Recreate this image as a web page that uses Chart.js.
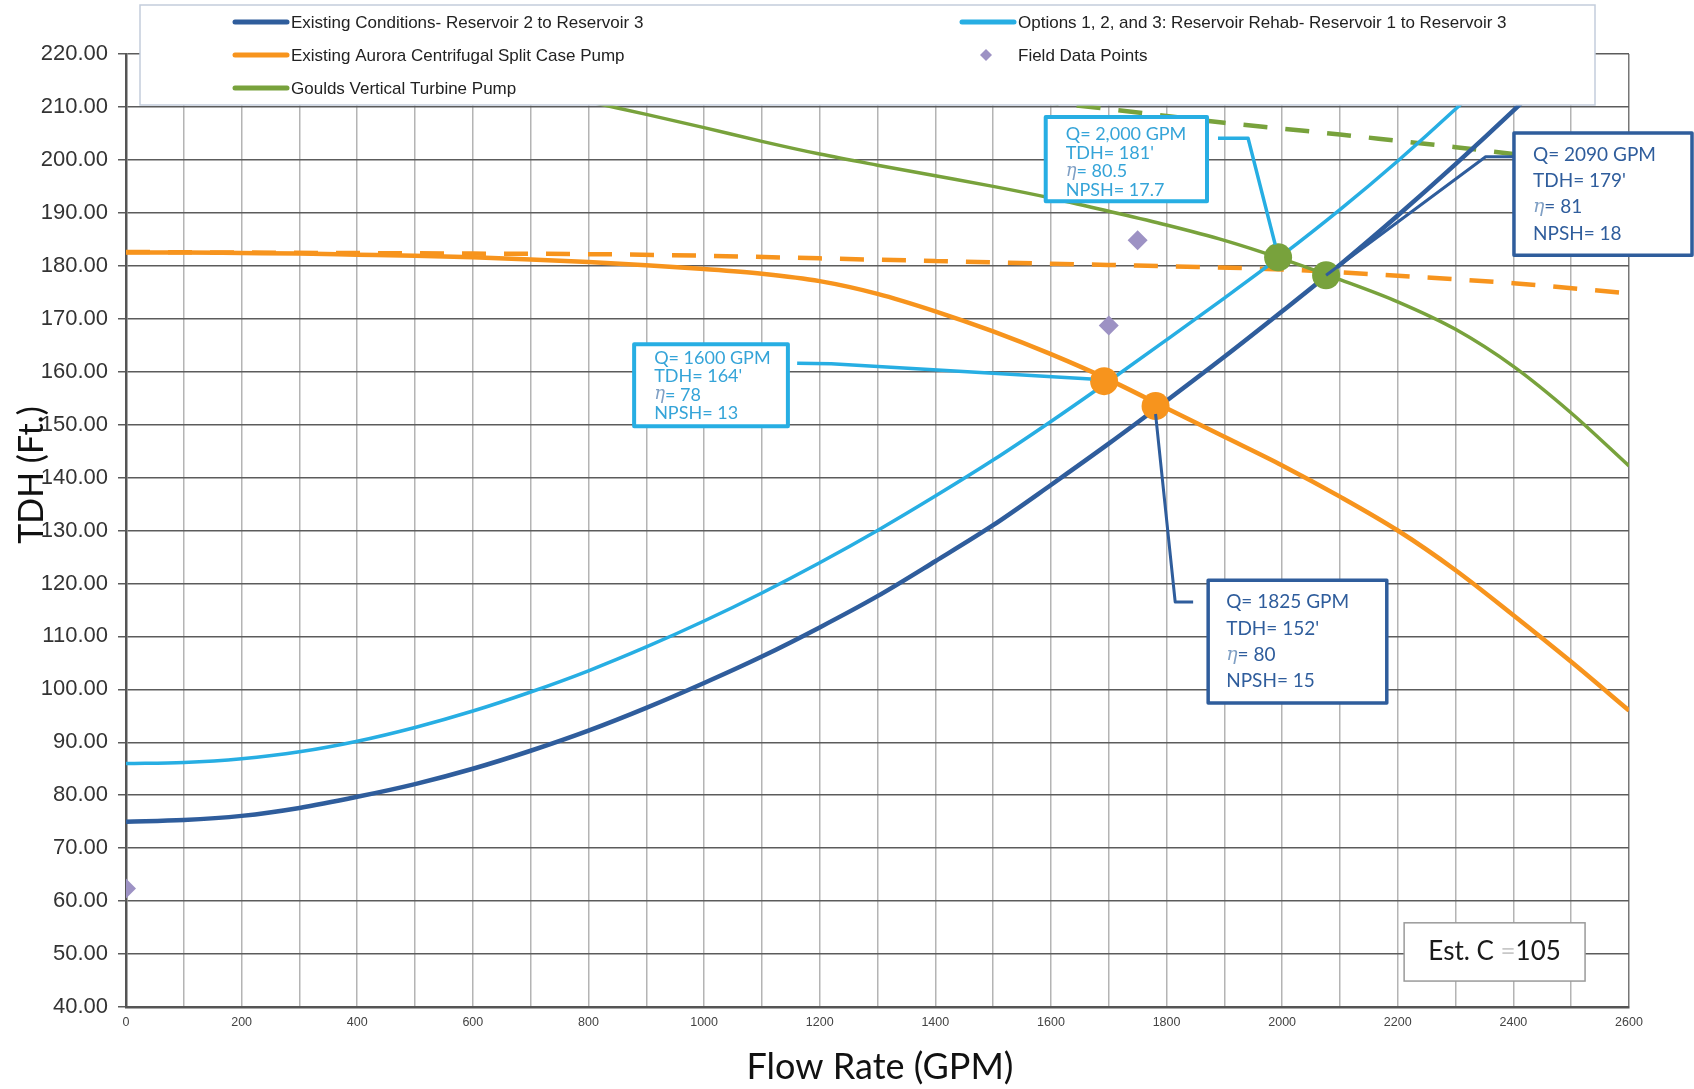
<!DOCTYPE html>
<html>
<head>
<meta charset="utf-8">
<title>TDH vs Flow Rate</title>
<script src="https://cdn.jsdelivr.net/npm/chart.js@4.4.1/dist/chart.umd.min.js"></script>
<style>
  html, body { margin: 0; padding: 0; background: #fff; }
  #wrap { width: 1694px; height: 1089px; position: relative; }
</style>
</head>
<body>
<div id="wrap"><canvas id="pumpChart"></canvas></div>
<script>
// system curves (flow in GPM, head in ft)
const flowExisting = [0,100,200,300,400,500,600,700,800,900,1000,1100,1200,1300,1400,1500,1600,1700,1800,1900,2000,2100,2200,2300,2400,2500];
const headExisting = [75.0,75.3,76.1,77.6,79.7,82.1,85.0,88.4,92.2,96.5,101.2,106.2,111.7,117.6,124.2,131.0,138.6,146.4,154.5,162.8,171.4,180.2,189.5,199.2,209.3,219.8];

const flowOptions = [0,100,200,300,400,500,600,700,800,900,1000,1100,1200,1300,1400,1500,1600,1700,1800,1900,2000,2100,2200,2300,2400];
const headOptions = [86.0,86.2,86.9,88.2,90.2,92.8,95.9,99.5,103.5,108.0,112.9,118.2,123.9,130.0,136.5,143.3,150.6,158.2,166.0,173.9,182.0,190.6,199.8,209.6,220.0];

// pump curves
const flowAurora = [0,100,200,300,400,500,600,700,800,900,1000,1100,1200,1300,1400,1500,1600,1700,1800,1900,2000,2100,2200,2300,2400,2500,2600];
const headAurora = [182.5,182.5,182.4,182.3,182.1,181.9,181.6,181.2,180.7,180.1,179.4,178.5,177.1,174.7,171.4,167.6,163.3,158.5,153.1,147.7,142.3,136.4,130.0,122.5,114.0,105.2,96.0];

const flowAuroraDash = [0,200,400,600,800,1000,1200,1400,1600,1800,2000,2200,2400,2600];
const headAuroraDash = [182.6,182.5,182.4,182.3,182.2,181.9,181.4,180.9,180.4,179.9,179.3,178.1,176.7,174.8];

const flowGoulds = [600,700,800,900,1000,1100,1200,1300,1400,1500,1600,1700,1800,1900,2000,2100,2200,2300,2400,2500,2600];
const headGoulds = [216.0,213.5,211.0,208.6,206.1,203.5,201.1,199.0,197.0,195.0,192.8,190.3,187.7,184.8,181.3,177.4,173.2,168.0,161.0,152.2,142.2];

const flowGouldsDash = [1500,1600,1700,1800,1900,2000,2100,2200,2300,2400];
const headGouldsDash = [212.0,210.8,209.6,208.3,207.0,205.9,204.8,203.6,202.4,201.1];

// operating points and field data
const opFlowGoulds = [1993, 2076];
const opHeadGoulds = [181.6, 178.2];
const opFlowAurora = [1692, 1781];
const opHeadAurora = [158.2, 153.5];
const fieldFlow = [0, 1700, 1750];
const fieldHead = [62.4, 168.7, 184.8];

// callout texts
const calloutText1 = ['Q= 2,000 GPM', "TDH= 181'", 'η= 80.5', 'NPSH= 17.7'];
const calloutText2 = ['Q= 2090 GPM', "TDH= 179'", 'η= 81', 'NPSH= 18'];
const calloutText3 = ['Q= 1600 GPM', "TDH= 164'", 'η= 78', 'NPSH= 13'];
const calloutText4 = ['Q= 1825 GPM', "TDH= 152'", 'η= 80', 'NPSH= 15'];

const darkBlue = '#2f5d9c';
const lightBlue = '#27aee3';
const orange = '#f7941d';
const green = '#78a23c';
const purple = '#9d92c4';

function pts(xs, ys) {
  return xs.map((v, i) => ({ x: v, y: ys[i] }));
}

function curve(label, xs, ys, color, width, order, dash) {
  return {
    label: label,
    data: pts(xs, ys),
    showLine: true,
    borderColor: color,
    backgroundColor: color,
    borderWidth: width,
    borderDash: dash || [],
    borderCapStyle: 'butt',
    pointRadius: 0,
    cubicInterpolationMode: 'monotone',
    fill: false,
    order: order
  };
}

// box layouts, given in chart units so they follow the scales
const callouts = [
  { lines: calloutText1, color: lightBlue, text: '#35a4d8', box: [1591, 208.1, 1870, 192.2], border: 4,
    leader: [[1889, 204.1], [1941, 204.1], [1988, 184.0]], leaderWidth: 3.5, size: 18, dx: 20, dy: 17, step: 18.7 },
  { lines: calloutText2, color: darkBlue, text: darkBlue, box: [2401, 205.1, 2709, 182.0], border: 3.5,
    leader: [[2400, 200.6], [2352, 200.6], [2076, 178.2]], leaderWidth: 3, size: 19, dx: 19, dy: 22, step: 26.2 },
  { lines: calloutText3, color: lightBlue, text: '#35a4d8', box: [879, 165.2, 1145, 149.7], border: 4,
    leader: [[1161, 161.6], [1220, 161.5], [1669, 158.6]], leaderWidth: 3.5, size: 18, dx: 20, dy: 14, step: 18.3 },
  { lines: calloutText4, color: darkBlue, text: darkBlue, box: [1872, 120.6, 2181, 97.4], border: 3.5,
    leader: [[1781, 152.0], [1815, 116.5], [1846, 116.5]], leaderWidth: 3, size: 19, dx: 18, dy: 22, step: 26.3 }
];
const estBox = [2211, 55.9, 2524, 44.9];

function drawCallout(ctx, xs, ys, c) {
  const l = xs.getPixelForValue(c.box[0]), t = ys.getPixelForValue(c.box[1]);
  const r = xs.getPixelForValue(c.box[2]), b = ys.getPixelForValue(c.box[3]);
  ctx.save();
  ctx.strokeStyle = c.color;
  ctx.lineWidth = c.leaderWidth;
  ctx.lineJoin = 'round';
  ctx.beginPath();
  c.leader.forEach((p, i) => {
    const px = xs.getPixelForValue(p[0]), py = ys.getPixelForValue(p[1]);
    if (i) ctx.lineTo(px, py); else ctx.moveTo(px, py);
  });
  ctx.stroke();
  ctx.fillStyle = '#fff';
  ctx.fillRect(l, t, r - l, b - t);
  ctx.lineWidth = c.border;
  ctx.strokeRect(l, t, r - l, b - t);
  ctx.textBaseline = 'middle';
  ctx.textAlign = 'left';
  c.lines.forEach((line, i) => {
    const ty = t + c.dy + i * c.step;
    let tx = l + c.dx;
    if (line.startsWith('η')) {
      ctx.font = 'italic ' + c.size + 'px "DejaVu Serif"';
      ctx.fillStyle = '#7f9fc4';
      ctx.fillText('η', tx, ty);
      tx += ctx.measureText('η').width;
      line = line.slice(1);
    }
    ctx.font = c.size + 'px Lato';
    ctx.fillStyle = c.text;
    ctx.fillText(line, tx, ty);
  });
  ctx.restore();
}

const annotationPlugin = {
  id: 'annotations',
  afterDatasetsDraw(chart) {
    const { ctx } = chart;
    const xs = chart.scales.x, ys = chart.scales.y;
    callouts.forEach(c => drawCallout(ctx, xs, ys, c));

    // Est. C box
    const l = xs.getPixelForValue(estBox[0]), t = ys.getPixelForValue(estBox[1]);
    const r = xs.getPixelForValue(estBox[2]), b = ys.getPixelForValue(estBox[3]);
    ctx.save();
    ctx.fillStyle = '#fff';
    ctx.fillRect(l, t, r - l, b - t);
    ctx.strokeStyle = '#9a9a9a';
    ctx.lineWidth = 1.5;
    ctx.strokeRect(l, t, r - l, b - t);
    ctx.font = '26px Lato';
    ctx.textBaseline = 'middle';
    const parts = [['Est. C ', '#1a1a1a'], ['=', '#c8c8c8'], ['105', '#1a1a1a']];
    let w = 0;
    parts.forEach(p => { w += ctx.measureText(p[0]).width; });
    let tx = (l + r) / 2 - w / 2;
    parts.forEach(p => {
      ctx.fillStyle = p[1];
      ctx.fillText(p[0], tx, (t + b) / 2);
      tx += ctx.measureText(p[0]).width;
    });
    ctx.restore();
  },
  afterDraw(chart) {
    const { ctx } = chart;
    ctx.save();
    // legend box over the top of the plot
    ctx.fillStyle = '#fff';
    ctx.fillRect(140, 5, 1455, 100);
    ctx.strokeStyle = '#c3cddc';
    ctx.lineWidth = 1.5;
    ctx.strokeRect(140, 5, 1455, 100);
    const items = [
      { ds: 3, x: 235, y: 22 },
      { ds: 5, x: 235, y: 55 },
      { ds: 7, x: 235, y: 88 },
      { ds: 4, x: 962, y: 22 },
      { ds: 2, x: 962, y: 55, marker: true }
    ];
    ctx.font = '17px "Liberation Sans", Arial';
    ctx.textBaseline = 'middle';
    items.forEach(it => {
      const d = chart.data.datasets[it.ds];
      if (it.marker) {
        ctx.fillStyle = purple;
        ctx.beginPath();
        ctx.moveTo(it.x + 24, it.y - 6);
        ctx.lineTo(it.x + 30, it.y);
        ctx.lineTo(it.x + 24, it.y + 6);
        ctx.lineTo(it.x + 18, it.y);
        ctx.closePath();
        ctx.fill();
      } else {
        ctx.strokeStyle = d.borderColor;
        ctx.lineWidth = 5;
        ctx.lineCap = 'round';
        ctx.beginPath();
        ctx.moveTo(it.x, it.y);
        ctx.lineTo(it.x + 52, it.y);
        ctx.stroke();
      }
      ctx.fillStyle = '#222';
      ctx.fillText(d.label, it.x + 56, it.y + 1);
    });

    // axis titles
    ctx.fillStyle = '#111';
    ctx.font = '36px Lato';
    ctx.textAlign = 'center';
    ctx.fillText('Flow Rate (GPM)', 880, 1067);
    ctx.translate(32, 475);
    ctx.rotate(-Math.PI / 2);
    ctx.font = '34px Lato';
    ctx.fillText('TDH (Ft.)', 0, 0);
    ctx.restore();
  }
};

const ctx = document.getElementById('pumpChart').getContext('2d');
const pumpChart = new Chart(ctx, {
  type: 'scatter',
  data: {
    datasets: [
      { label: 'Goulds operating points', data: pts(opFlowGoulds, opHeadGoulds), pointRadius: 14, pointHoverRadius: 14,
        backgroundColor: green, borderWidth: 0, order: 0 },
      { label: 'Aurora operating points', data: pts(opFlowAurora, opHeadAurora), pointRadius: 14, pointHoverRadius: 14,
        backgroundColor: orange, borderWidth: 0, order: 0 },
      { label: 'Field Data Points', data: pts(fieldFlow, fieldHead), pointStyle: 'rectRot', pointRadius: 10,
        pointHoverRadius: 10, backgroundColor: purple, borderWidth: 0, order: 1 },
      curve('Existing Conditions- Reservoir 2 to Reservoir 3', flowExisting, headExisting, darkBlue, 4.5, 2),
      curve('Options 1, 2, and 3: Reservoir Rehab- Reservoir 1 to Reservoir 3', flowOptions, headOptions, lightBlue, 3.5, 3),
      curve('Existing Aurora Centrifugal Split Case Pump', flowAurora, headAurora, orange, 4.5, 4),
      curve('Existing Aurora (dashed)', flowAuroraDash, headAuroraDash, orange, 4.5, 5, [24, 18]),
      curve('Goulds Vertical Turbine Pump', flowGoulds, headGoulds, green, 3.5, 4),
      curve('Goulds (dashed)', flowGouldsDash, headGouldsDash, green, 4.5, 5, [24, 18])
    ]
  },
  options: {
    responsive: true,
    maintainAspectRatio: false,
    animation: false,
    layout: { padding: { top: 54, right: 65, left: 0, bottom: 0 } },
    plugins: {
      legend: { display: false },
      tooltip: { enabled: false }
    },
    scales: {
      x: {
        type: 'linear',
        min: 0,
        max: 2600,
        afterFit: s => { s.height = 82; },
        border: { color: '#555', width: 2.5 },
        grid: {
          color: c => (c.tick && c.tick.value === 2600 ? '#777' : '#b4b4b4'),
          lineWidth: 1.5,
          drawTicks: false
        },
        ticks: {
          stepSize: 100,
          autoSkip: false,
          maxRotation: 0,
          padding: 8,
          color: '#444',
          font: { family: '"Liberation Sans", Arial', size: 12.5 },
          callback: v => (v % 200 === 0 ? String(v) : '')
        }
      },
      y: {
        min: 40,
        max: 220,
        afterFit: s => { s.width = 126; },
        border: { color: '#555', width: 2.5 },
        grid: { color: '#5c5c5c', lineWidth: 1.5, tickLength: 8 },
        ticks: {
          stepSize: 10,
          padding: 10,
          color: '#333',
          font: { family: '"Liberation Sans", Arial', size: 22 },
          callback: v => v.toFixed(2)
        }
      }
    }
  },
  plugins: [annotationPlugin]
});
</script>
</body>
</html>
